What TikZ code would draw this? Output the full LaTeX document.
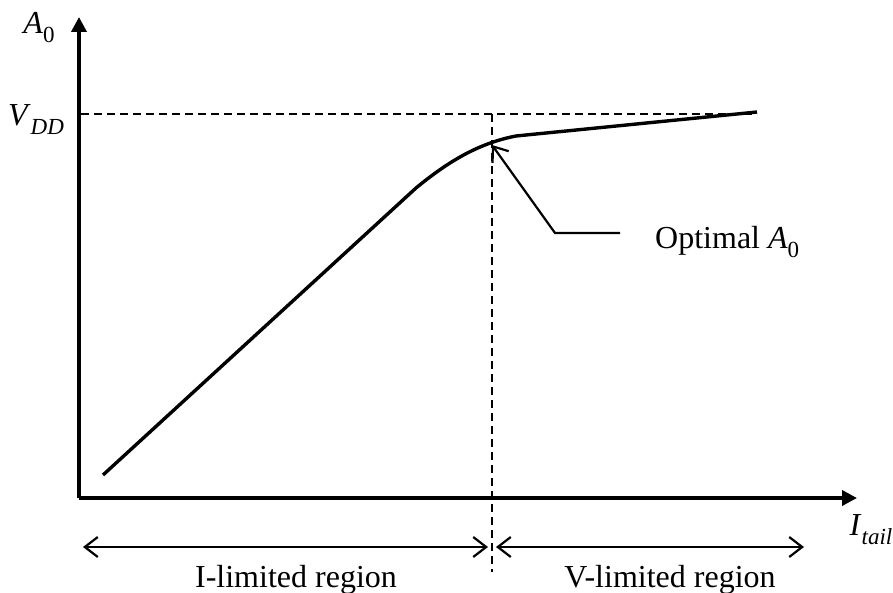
\documentclass[tikz,border=0pt]{standalone}
\usepackage{fontspec}
\setmainfont{Liberation Serif}
\usepackage{tikz}
\usetikzlibrary{arrows.meta,positioning}

% italic symbol with a lowered subscript, set as text
\newcommand{\symsub}[2]{\textit{#1}\raisebox{-0.28em}{\fontsize{23}{23}\selectfont #2}}

\begin{document}
\begin{tikzpicture}[x=1pt,y=-1pt,
    axis/.style={line width=3.6pt,-{Triangle[length=15pt,width=15pt]}},
    guide/.style={line width=2.2pt,dash pattern=on 8pt off 5pt},
    curve/.style={line width=3.4pt},
    barb/.style={line width=2.2pt,-{Straight Barb[length=13pt,width=20pt]}},
    span/.style={line width=2.2pt,{Straight Barb[length=13pt,width=20pt]}-{Straight Barb[length=13pt,width=20pt]}},
    lbl/.style={font=\fontsize{32}{36}\selectfont,inner sep=0pt}]
    \useasboundingbox (0,0) rectangle (893,593);
    % axes
    \coordinate (o)    at (79,498);
    \coordinate (ytop) at (79,17);
    \coordinate (xend) at (857,498);
    \draw[axis] (o) -- (ytop);
    \draw[axis] (o) -- (xend);
    \node[lbl] (a0)    at (39,28)  {\symsub{A}{0}};
    \node[lbl] (vdd)   at (36,120) {\symsub{V}{\textit{DD}}};
    \node[lbl] (itail) at (871,530) {\symsub{I}{\textit{tail}}};
    % guides
    \coordinate (vddl) at (81,114);
    \coordinate (vddr) at (757,114);
    \coordinate (opt)  at (492,145);
    \coordinate (vtop) at (492,114);
    \coordinate (vbot) at (492,572);
    \draw[guide] (vddl) -- (vddr);
    \draw[guide] (vtop) -- (vbot);
    % gain curve
    \coordinate (c0) at (103,475);
    \coordinate (c1) at (416,188);
    \coordinate (c2) at (516,136);
    \coordinate (c3) at (757,112);
    \draw[curve] (c0) -- (c1) .. controls (450,160) and (480,143) .. (c2) -- (c3);
    % annotation
    \node[lbl,anchor=west] (optlbl) at (655,242) {Optimal \symsub{A}{0}};
    \coordinate (p1) at (620,233);
    \coordinate (p2) at (555,233);
    \draw[barb] (p1) -- (p2) -- (opt);
    % regions
    \coordinate (l0) at (83,547);
    \coordinate (l1) at (488,547);
    \coordinate (r0) at (496,547);
    \coordinate (r1) at (804,547);
    \draw[span] (l0) -- (l1);
    \draw[span] (r0) -- (r1);
    \node[lbl] (ireg) at (296,580) {I-limited region};
    \node[lbl] (vreg) at (670,580) {V-limited region};
\end{tikzpicture}
\end{document}
